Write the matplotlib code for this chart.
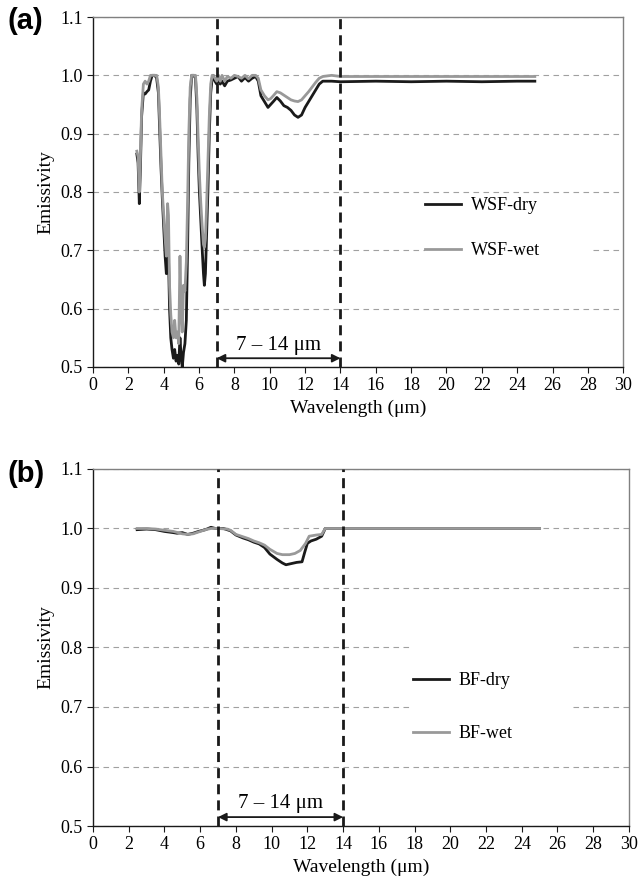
import matplotlib
matplotlib.use('Agg')
import matplotlib.pyplot as plt
from matplotlib.patches import Rectangle

plt.rcParams['font.family'] = ['Liberation Serif', 'DejaVu Serif']

# panel (a): WSF spectra
wsf_x = [2.48, 2.55, 2.62, 2.68, 2.75, 2.85, 2.95, 3.05, 3.15, 3.25, 3.35, 3.5, 3.6, 3.7,
         3.78, 3.85, 3.92, 4.0, 4.08, 4.15, 4.22, 4.27, 4.33, 4.4, 4.47, 4.55, 4.62, 4.7,
         4.78, 4.85, 4.92, 4.98, 5.05, 5.12, 5.2, 5.28, 5.35, 5.42, 5.5, 5.58, 5.7, 5.8,
         5.88, 5.95, 6.02, 6.1, 6.18, 6.25, 6.3, 6.36, 6.42, 6.5, 6.58, 6.66, 6.74, 6.8,
         6.9, 7.0, 7.1, 7.2, 7.3, 7.45, 7.6, 7.8, 8.0, 8.2, 8.4, 8.6, 8.8, 9.0, 9.2, 9.35,
         9.5, 9.7, 9.9, 10.05, 10.2, 10.4, 10.6, 10.8, 11.0, 11.2, 11.4, 11.6, 11.8, 12.0,
         12.2, 12.4, 12.6, 12.8, 13.0, 13.5, 14, 16, 18, 20, 22, 24, 25]
wsf_dry = [0.865, 0.85, 0.78, 0.84, 0.93, 0.97, 0.968, 0.972, 0.975, 0.99, 1.0, 1.0, 0.995, 0.97,
           0.9, 0.84, 0.79, 0.74, 0.69, 0.66, 0.70, 0.69, 0.60, 0.55, 0.53, 0.515, 0.53, 0.51,
           0.52, 0.505, 0.55, 0.52, 0.50, 0.525, 0.54, 0.58, 0.70, 0.85, 0.96, 1.0, 1.0, 0.995,
           0.94, 0.86, 0.80, 0.75, 0.70, 0.66, 0.64, 0.66, 0.72, 0.80, 0.90, 0.97, 0.995, 1.0,
           0.99, 0.985, 0.995, 0.985, 0.99, 0.982, 0.99, 0.992, 0.995, 0.998, 0.99, 0.996, 0.99, 0.995, 0.998, 0.99,
           0.965, 0.955, 0.945, 0.95, 0.955, 0.962, 0.956, 0.948, 0.945, 0.94, 0.932, 0.928, 0.932, 0.945,
           0.955, 0.965, 0.975, 0.985, 0.99, 0.99, 0.989, 0.99, 0.989, 0.99, 0.989, 0.99, 0.99]
wsf_wet = [0.87, 0.86, 0.80, 0.86, 0.94, 0.985, 0.99, 0.985, 0.99, 1.0, 1.0, 1.0, 1.0, 0.98,
           0.92, 0.86, 0.80, 0.76, 0.72, 0.69, 0.78, 0.76, 0.64, 0.59, 0.56, 0.55, 0.58, 0.55,
           0.56, 0.54, 0.69, 0.60, 0.56, 0.64, 0.63, 0.68, 0.78, 0.90, 0.98, 1.0, 1.0, 1.0,
           0.96, 0.89, 0.83, 0.78, 0.74, 0.71, 0.705, 0.72, 0.77, 0.85, 0.93, 0.985, 1.0, 1.0,
           0.995, 0.99, 1.0, 0.99, 1.0, 0.99, 0.998, 0.995, 1.0, 0.998, 0.995, 1.0, 0.994, 1.0, 1.0, 0.995,
           0.975, 0.965, 0.958, 0.96, 0.965, 0.972, 0.97, 0.966, 0.962, 0.958, 0.956, 0.955, 0.958, 0.965,
           0.972, 0.98, 0.988, 0.995, 0.998, 1.0, 0.998, 0.998, 0.998, 0.998, 0.998, 0.998, 0.998]

# panel (b): BF spectra
bf_x_dry = [2.47, 3.0, 3.5, 4.0, 4.5, 4.7, 5.0, 5.3, 5.6, 5.9, 6.3, 6.6, 6.85, 7.3, 7.7, 8.0,
            8.4, 8.7, 9.0, 9.3, 9.6, 9.9, 10.3, 10.6, 10.8, 11.1, 11.4, 11.7, 11.85, 12.0,
            12.2, 12.5, 12.8, 13.0, 25]
bf_dry = [0.998, 0.999, 0.998, 0.995, 0.993, 0.992, 0.993, 0.99, 0.992, 0.995, 0.998, 1.002, 1.0, 1.0, 0.996, 0.989,
          0.984, 0.981, 0.977, 0.974, 0.968, 0.957, 0.948, 0.942, 0.939, 0.941, 0.943, 0.944, 0.96, 0.975,
          0.979, 0.982, 0.987, 1.0, 1.0]
bf_x_wet = [2.47, 3.0, 3.5, 4.0, 4.5, 5.0, 5.3, 5.6, 5.9, 6.3, 6.6, 7.0, 7.5, 7.7, 8.0, 8.4,
            8.7, 9.0, 9.3, 9.6, 9.9, 10.3, 10.6, 11.0, 11.3, 11.6, 11.9, 12.1, 12.5, 12.8, 13.0, 25]
bf_wet = [1.0, 1.0, 0.999, 0.997, 0.995, 0.991, 0.99, 0.991, 0.994, 0.998, 1.0, 1.0, 0.999, 0.997, 0.99, 0.986,
          0.983, 0.979, 0.976, 0.972, 0.965, 0.958, 0.956, 0.956, 0.958, 0.963, 0.975, 0.987, 0.989, 0.99, 1.0, 1.0]

x_ticks = list(range(0, 31, 2))
y_ticks = [0.5, 0.6, 0.7, 0.8, 0.9, 1.0, 1.1]

DARK = '#1a1a1a'
GREY = '#999999'

fig = plt.figure(figsize=(6.38, 8.86), dpi=100)
ax_a = fig.add_axes([0.1458, 0.5858, 0.831, 0.395])
ax_b = fig.add_axes([0.1458, 0.0677, 0.840, 0.403])


def style_axes(ax):
    ax.set_xlim(0, 30)
    ax.set_ylim(0.5, 1.1)
    ax.set_xticks(x_ticks)
    ax.set_yticks(y_ticks)
    ax.set_yticklabels([f'{v:.1f}' for v in y_ticks])
    ax.tick_params(direction='out', length=4, width=0.8, labelsize=13, color=DARK)
    ax.yaxis.grid(True, linestyle=(0, (5, 4)), color='#a0a0a0', lw=0.8)
    ax.set_axisbelow(True)
    for side in ['top', 'right']:
        ax.spines[side].set_color('#808080')
        ax.spines[side].set_linewidth(1.0)
    for side in ['left', 'bottom']:
        ax.spines[side].set_color(DARK)
        ax.spines[side].set_linewidth(1.0)
    ax.set_xlabel('Wavelength (μm)', fontsize=14)
    ax.set_ylabel('Emissivity', fontsize=14)
    # 7-14 um window
    for xv in (7, 14):
        ax.axvline(xv, color=DARK, lw=2, linestyle=(0, (3.6, 2.2)), zorder=4)
    ax.annotate('', xy=(7, 0.515), xytext=(14, 0.515),
                arrowprops=dict(arrowstyle='<|-|>', color=DARK, lw=1.3,
                                shrinkA=0, shrinkB=0, mutation_scale=12))
    ax.text(10.5, 0.537, '7 – 14 μm', ha='center', va='center', fontsize=15)


def add_legend(ax, x0, yc, spacing, box):
    # white legend area that hides the grid, as in the original
    ax.add_patch(Rectangle((box[0], box[1]), box[2] - box[0], box[3] - box[1],
                           facecolor='white', edgecolor='none', zorder=0.8))
    ax.legend(loc='center left', bbox_to_anchor=(x0, yc), bbox_transform=ax.transData,
              fontsize=13, frameon=False, handlelength=2.0, handletextpad=0.55,
              labelspacing=spacing, borderpad=0, borderaxespad=0)


style_axes(ax_a)
ax_a.plot(wsf_x, wsf_dry, color=DARK, lw=2, label='WSF-dry')
ax_a.plot(wsf_x, wsf_wet, color=GREY, lw=2, label='WSF-wet')
add_legend(ax_a, 18.8, 0.738, 1.52, (18.8, 0.66, 28.1, 0.79))

style_axes(ax_b)
ax_b.plot(bf_x_dry, bf_dry, color=DARK, lw=2, label='BF-dry')
ax_b.plot(bf_x_wet, bf_wet, color=GREY, lw=2, label='BF-wet')
add_legend(ax_b, 17.9, 0.70, 2.0, (17.9, 0.62, 26.8, 0.81))

fig.text(0.012, 0.976, '(a)', fontsize=21, fontweight='bold', family='Liberation Sans', va='center')
fig.text(0.012, 0.465, '(b)', fontsize=21, fontweight='bold', family='Liberation Sans', va='center')

fig.savefig('out.png', dpi=100)
